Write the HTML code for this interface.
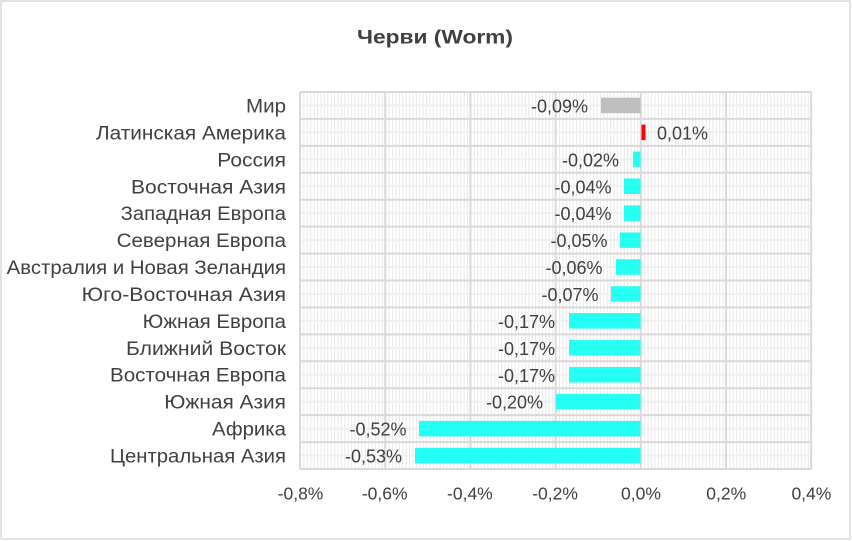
<!DOCTYPE html>
<html><head><meta charset="utf-8"><style>
html,body{margin:0;padding:0;background:#fff;}
svg{display:block;}
text{font-family:"Liberation Sans",Arial,sans-serif;}
</style></head><body>
<svg width="852" height="541" viewBox="0 0 852 541" xmlns="http://www.w3.org/2000/svg">
<defs>
<pattern id="minv" patternUnits="userSpaceOnUse" x="300" y="0" width="3.408" height="10">
<rect x="0" y="0" width="1" height="10" fill="#e9e9e9"/>
</pattern>
</defs>
<rect x="0" y="0" width="852" height="541" fill="#fff"/>
<rect x="1" y="1" width="849" height="538" fill="none" stroke="#d9d9d9" stroke-width="1.5"/>
<text x="357" y="43.5" font-size="19" font-weight="bold" fill="#404040" textLength="156" lengthAdjust="spacingAndGlyphs">Черви (Worm)</text>

<!-- plot area -->
<rect x="300" y="92" width="511.2" height="377" fill="url(#minv)"/>
<g stroke="#f0f0f0" stroke-width="2">
<line x1="300" x2="811.2" y1="105.46" y2="105.46"/>
<line x1="300" x2="811.2" y1="132.39" y2="132.39"/>
<line x1="300" x2="811.2" y1="159.32" y2="159.32"/>
<line x1="300" x2="811.2" y1="186.25" y2="186.25"/>
<line x1="300" x2="811.2" y1="213.18" y2="213.18"/>
<line x1="300" x2="811.2" y1="240.11" y2="240.11"/>
<line x1="300" x2="811.2" y1="267.04" y2="267.04"/>
<line x1="300" x2="811.2" y1="293.96" y2="293.96"/>
<line x1="300" x2="811.2" y1="320.89" y2="320.89"/>
<line x1="300" x2="811.2" y1="347.82" y2="347.82"/>
<line x1="300" x2="811.2" y1="374.75" y2="374.75"/>
<line x1="300" x2="811.2" y1="401.68" y2="401.68"/>
<line x1="300" x2="811.2" y1="428.61" y2="428.61"/>
<line x1="300" x2="811.2" y1="455.54" y2="455.54"/>
</g>
<g stroke="#d9d9d9" stroke-width="2">
<line x1="300" x2="811.2" y1="92" y2="92"/>
<line x1="300" x2="811.2" y1="118.93" y2="118.93"/>
<line x1="300" x2="811.2" y1="145.86" y2="145.86"/>
<line x1="300" x2="811.2" y1="172.79" y2="172.79"/>
<line x1="300" x2="811.2" y1="199.71" y2="199.71"/>
<line x1="300" x2="811.2" y1="226.64" y2="226.64"/>
<line x1="300" x2="811.2" y1="253.57" y2="253.57"/>
<line x1="300" x2="811.2" y1="280.5" y2="280.5"/>
<line x1="300" x2="811.2" y1="307.43" y2="307.43"/>
<line x1="300" x2="811.2" y1="334.36" y2="334.36"/>
<line x1="300" x2="811.2" y1="361.29" y2="361.29"/>
<line x1="300" x2="811.2" y1="388.21" y2="388.21"/>
<line x1="300" x2="811.2" y1="415.14" y2="415.14"/>
<line x1="300" x2="811.2" y1="442.07" y2="442.07"/>
<line x1="300" x2="811.2" y1="469" y2="469"/>
<line x1="300" x2="300" y1="92" y2="469"/>
<line x1="385.2" x2="385.2" y1="92" y2="469"/>
<line x1="470.4" x2="470.4" y1="92" y2="469"/>
<line x1="555.6" x2="555.6" y1="92" y2="469"/>
<line x1="640.8" x2="640.8" y1="92" y2="469"/>
<line x1="726" x2="726" y1="92" y2="469"/>
<line x1="811.2" x2="811.2" y1="92" y2="469"/>
</g>

<!-- bars -->
<rect x="601" y="97.7" width="39.5" height="15.5" fill="#bfbfbf"/>
<rect x="641.5" y="124.6" width="4" height="15.5" fill="#ff0000"/>
<g fill="#26fff4">
<rect x="633" y="151.6" width="7.5" height="15.5"/>
<rect x="624" y="178.5" width="16.5" height="15.5"/>
<rect x="624" y="205.4" width="16.5" height="15.5"/>
<rect x="620" y="232.4" width="20.5" height="15.5"/>
<rect x="616" y="259.3" width="24.5" height="15.5"/>
<rect x="611" y="286.2" width="29.5" height="15.5"/>
<rect x="569" y="313.1" width="71.5" height="15.5"/>
<rect x="569" y="340.1" width="71.5" height="15.5"/>
<rect x="569" y="367" width="71.5" height="15.5"/>
<rect x="556" y="393.9" width="84.5" height="15.5"/>
<rect x="419" y="420.9" width="221.5" height="15.5"/>
<rect x="415" y="447.8" width="225.5" height="15.5"/>
</g>

<!-- data labels -->
<g font-size="18" fill="#404040" text-anchor="end">
<text x="588" y="112.5">-0,09%</text>
<text x="619" y="166.4">-0,02%</text>
<text x="611.5" y="193.3">-0,04%</text>
<text x="611.5" y="220.2">-0,04%</text>
<text x="607.5" y="247.2">-0,05%</text>
<text x="602.5" y="274.1">-0,06%</text>
<text x="598.5" y="301">-0,07%</text>
<text x="555" y="327.9">-0,17%</text>
<text x="555" y="354.9">-0,17%</text>
<text x="555" y="381.8">-0,17%</text>
<text x="543" y="408.7">-0,20%</text>
<text x="406.5" y="435.7">-0,52%</text>
<text x="402" y="462.6">-0,53%</text>
</g>
<text x="657" y="139.4" font-size="18" fill="#404040">0,01%</text>

<!-- category labels -->
<g font-size="19" fill="#404040" text-anchor="end" lengthAdjust="spacingAndGlyphs">
<text x="286" y="112.5" textLength="40" lengthAdjust="spacingAndGlyphs">Мир</text>
<text x="286" y="139.4" textLength="190" lengthAdjust="spacingAndGlyphs">Латинская Америка</text>
<text x="286" y="166.3" textLength="68.7" lengthAdjust="spacingAndGlyphs">Россия</text>
<text x="286" y="193.3" textLength="155" lengthAdjust="spacingAndGlyphs">Восточная Азия</text>
<text x="286" y="220.2" textLength="165.3" lengthAdjust="spacingAndGlyphs">Западная Европа</text>
<text x="286" y="247.1" textLength="169.3" lengthAdjust="spacingAndGlyphs">Северная Европа</text>
<text x="286" y="274" textLength="279.3" lengthAdjust="spacingAndGlyphs">Австралия и Новая Зеландия</text>
<text x="286" y="301" textLength="204.3" lengthAdjust="spacingAndGlyphs">Юго-Восточная Азия</text>
<text x="286" y="327.9" textLength="143.3" lengthAdjust="spacingAndGlyphs">Южная Европа</text>
<text x="286" y="354.8" textLength="160" lengthAdjust="spacingAndGlyphs">Ближний Восток</text>
<text x="286" y="381.7" textLength="176" lengthAdjust="spacingAndGlyphs">Восточная Европа</text>
<text x="286" y="408.7" textLength="121.7" lengthAdjust="spacingAndGlyphs">Южная Азия</text>
<text x="286" y="435.6" textLength="74" lengthAdjust="spacingAndGlyphs">Африка</text>
<text x="286" y="462.5" textLength="176" lengthAdjust="spacingAndGlyphs">Центральная Азия</text>
</g>

<!-- x tick labels -->
<g font-size="17.5" fill="#404040" text-anchor="middle">
<text x="300.5" y="499.5">-0,8%</text>
<text x="384.7" y="499.5">-0,6%</text>
<text x="469.9" y="499.5">-0,4%</text>
<text x="555.1" y="499.5">-0,2%</text>
<text x="641" y="499.5">0,0%</text>
<text x="726.2" y="499.5">0,2%</text>
<text x="811.4" y="499.5">0,4%</text>
</g>
</svg>
</body></html>
